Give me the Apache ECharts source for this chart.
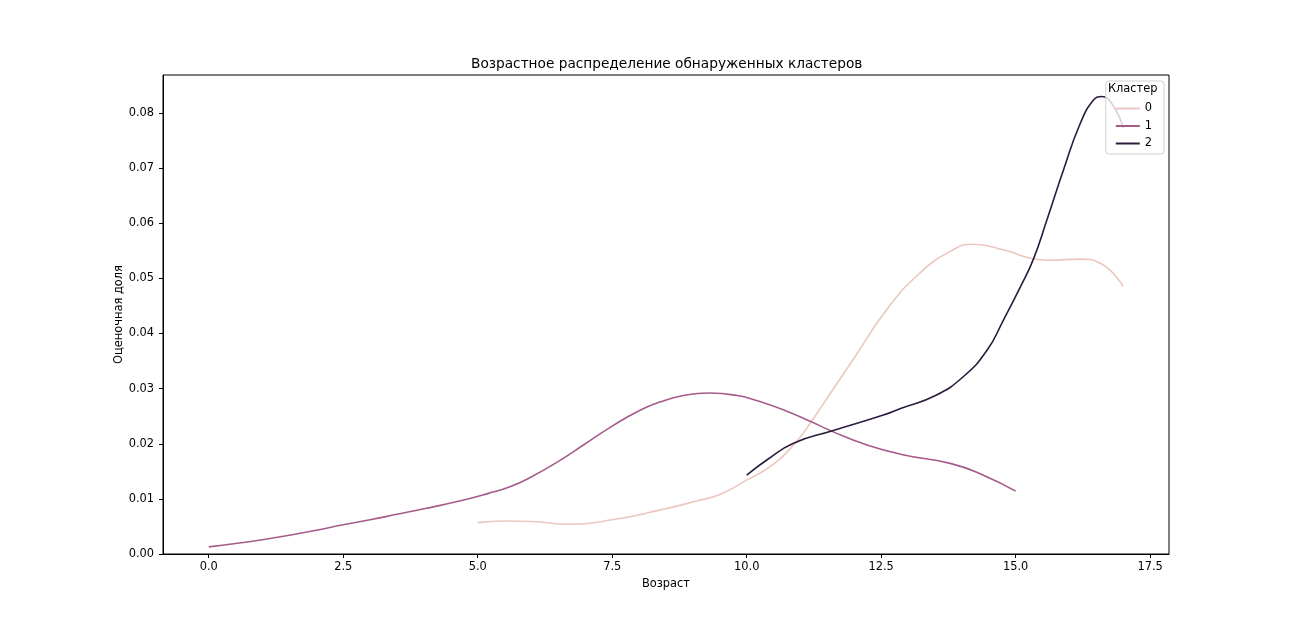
<!DOCTYPE html>
<html>
<head>
<meta charset="utf-8">
<script src="https://cdn.jsdelivr.net/npm/echarts@6/dist/echarts.min.js"></script>
<style>html,body{margin:0;padding:0;background:#fff}#c{width:1299px;height:623px}</style>
</head>
<body>
<div id="c"></div>
<script>
const seriesNames = ['0', '1', '2'];
const x0 = [5.0, 5.5, 6.0, 6.7, 7.5, 8.4, 9.1, 9.5, 10.0, 10.5, 10.9, 11.2, 11.6, 12.0, 12.6, 13.2, 13.8, 14.2, 14.8, 15.3, 15.6, 16.2, 16.6, 17.0];
const y0 = [0.0057, 0.0060, 0.0059, 0.0054, 0.0062, 0.0080, 0.0097, 0.0108, 0.0134, 0.0163, 0.0201, 0.0240, 0.0298, 0.0356, 0.0443, 0.0508, 0.0550, 0.0562, 0.0551, 0.0536, 0.0533, 0.0535, 0.0526, 0.0485];
const x1 = [0, 0.5, 1.0, 1.5, 2.0, 2.5, 3.0, 3.5, 4.0, 4.7, 5.2, 5.6, 6.0, 6.5, 7.0, 7.5, 8.0, 8.4, 8.8, 9.3, 9.8, 10.2, 10.7, 11.2, 11.6, 12.2, 12.9, 13.8, 14.4, 15.0];
const y1 = [0.0013, 0.0019, 0.0026, 0.0034, 0.0043, 0.0053, 0.0062, 0.0072, 0.0082, 0.0097, 0.0110, 0.0122, 0.0140, 0.0168, 0.0200, 0.0232, 0.0260, 0.0276, 0.0287, 0.0292, 0.0288, 0.0278, 0.0261, 0.0240, 0.0222, 0.0199, 0.0180, 0.0164, 0.0143, 0.0114];
const x2 = [10.0, 10.38, 10.87, 11.61, 12.54, 12.86, 13.5, 14.03, 14.47, 14.77, 15.09, 15.33, 15.58, 15.89, 16.2, 16.45, 16.6, 16.8, 17.0];
const y2 = [0.0143, 0.0171, 0.0201, 0.0224, 0.0252, 0.0264, 0.0287, 0.0322, 0.0370, 0.0424, 0.0485, 0.0535, 0.0606, 0.0697, 0.0781, 0.0824, 0.0830, 0.0815, 0.0773];
const xTicks = [0, 2.5, 5, 7.5, 10, 12.5, 15, 17.5];
const yTicks = [0, 0.01, 0.02, 0.03, 0.04, 0.05, 0.06, 0.07, 0.08];
const colors = ['#ebc7be', '#a65b8b', '#2c1b3e'];

const zip = (xs, ys) => xs.map((x, i) => [x, ys[i]]);
const dataSets = [zip(x0, y0), zip(x1, y1), zip(x2, y2)];
const font = 'DejaVu Sans';
const fs = 11.4;

const chart = echarts.init(document.getElementById('c'), null, {renderer: 'canvas'});
chart.setOption({
  animation: false,
  backgroundColor: '#fff',
  textStyle: {fontFamily: font},
  title: {
    text: 'Возрастное распределение обнаруженных кластеров',
    left: 466, top: 52,
    textStyle: {fontFamily: font, fontSize: 13.7, fontWeight: 'normal', color: '#000'}
  },
  grid: {left: 163, right: 130, top: 75, bottom: 69, show: true, borderColor: '#000', borderWidth: 1, containLabel: false},
  xAxis: {
    type: 'value', min: -0.85, max: 17.85,
    name: 'Возраст', nameLocation: 'middle', nameGap: 25, nameMoveOverlap: false,
    nameTextStyle: {fontFamily: font, fontSize: fs, color: '#000'},
    axisLine: {show: true, onZero: false, lineStyle: {color: '#000', width: 1}},
    axisTick: {show: true, inside: false, length: 4, customValues: xTicks, lineStyle: {color: '#000'}},
    axisLabel: {customValues: xTicks, formatter: v => v.toFixed(1), fontFamily: font, fontSize: fs, color: '#000', margin: 8},
    splitLine: {show: false}
  },
  yAxis: {
    type: 'value', min: 0, max: 0.0869,
    name: 'Оценочная доля', nameLocation: 'middle', nameGap: 38, nameMoveOverlap: false,
    nameTextStyle: {fontFamily: font, fontSize: fs, color: '#000'},
    axisLine: {show: true, onZero: false, lineStyle: {color: '#000', width: 1}},
    axisTick: {show: true, inside: false, length: 4, customValues: yTicks, lineStyle: {color: '#000'}},
    axisLabel: {customValues: yTicks, formatter: v => v.toFixed(2), fontFamily: font, fontSize: fs, color: '#000', margin: 9},
    splitLine: {show: false}
  },
  legend: {
    orient: 'vertical', right: 135, top: 81,
    data: seriesNames,
    icon: 'rect', itemWidth: 24, itemHeight: 2, itemGap: 4.5,
    padding: [21, 12, 4, 10],
    borderColor: '#d0d0d0', borderWidth: 1, borderRadius: 3,
    backgroundColor: 'rgba(255,255,255,0.8)',
    textStyle: {fontFamily: font, fontSize: fs, color: '#000', lineHeight: 13},
    selectedMode: false
  },
  graphic: [{
    type: 'text', left: 1108, top: 84, z: 100,
    style: {text: 'Кластер', fontFamily: font, fontSize: fs, fill: '#000'}
  }],
  series: seriesNames.map((n, i) => ({
    name: n, type: 'line', data: dataSets[i], smooth: 0.5,
    showSymbol: false, symbol: 'none',
    lineStyle: {color: colors[i], width: 1.6},
    itemStyle: {color: colors[i]}
  }))
});
</script>
</body>
</html>
